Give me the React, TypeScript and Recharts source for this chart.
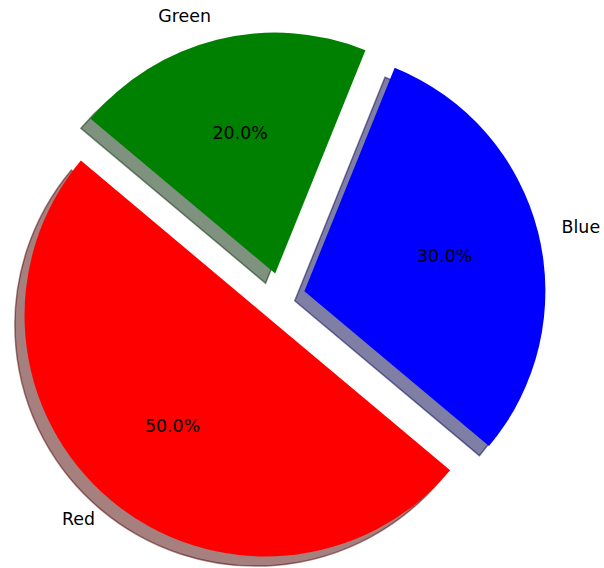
import { PieChart, Pie, Cell, Sector } from 'recharts'

const LABELS = ['Red', 'Blue', 'Green']
const SHARES = [50, 30, 20]
const COLORS = ['#ff0000', '#0000ff', '#008000']
const SHADOWS = ['#4d0000', '#00004d', '#002600'] // 0.3 * face colour, drawn at half alpha
const EXPLODE = [0.1, 0.1, 0.1]

const data = LABELS.map((name, i) => ({ name, value: SHARES[i] }))

const RADIAN = Math.PI / 180
const SHADOW_OFF = 9.6
const FONT = { fontFamily: 'DejaVu Sans', fontSize: 17.4 }

function sliceIndex(p: any) {
  return LABELS.indexOf(p.payload?.name ?? p.name)
}

// unit vector of a slice's mid angle, in screen coords
function dir(midAngle: number): [number, number] {
  return [Math.cos(-midAngle * RADIAN), Math.sin(-midAngle * RADIAN)]
}

function Slice(props: any) {
  const { cx, cy, outerRadius, startAngle, endAngle, midAngle } = props
  const i = sliceIndex(props)
  const [ux, uy] = dir(midAngle)
  const ex = cx + ux * outerRadius * EXPLODE[i]
  const ey = cy + uy * outerRadius * EXPLODE[i]
  return (
    <g>
      <Sector
        cx={ex - SHADOW_OFF}
        cy={ey + SHADOW_OFF}
        innerRadius={0}
        outerRadius={outerRadius}
        startAngle={startAngle}
        endAngle={endAngle}
        fill={SHADOWS[i]}
        fillOpacity={0.5}
        stroke={SHADOWS[i]}
        strokeOpacity={0.5}
        strokeWidth={1.5}
      />
      <Sector
        cx={ex}
        cy={ey}
        innerRadius={0}
        outerRadius={outerRadius}
        startAngle={startAngle}
        endAngle={endAngle}
        fill={COLORS[i]}
        stroke="none"
      />
    </g>
  )
}

function SliceLabel(props: any) {
  const { cx, cy, outerRadius, midAngle, percent } = props
  const i = sliceIndex(props)
  const [ux, uy] = dir(midAngle)
  const ax = cx + ux * outerRadius * EXPLODE[i]
  const ay = cy + uy * outerRadius * EXPLODE[i]
  return (
    <g>
      <text
        x={ax + ux * outerRadius * 1.1}
        y={ay + uy * outerRadius * 1.1}
        textAnchor={ux < 0 ? 'end' : 'start'}
        dominantBaseline="central"
        fill="#000"
        style={FONT}
      >
        {LABELS[i]}
      </text>
      <text
        x={ax + ux * outerRadius * 0.6}
        y={ay + uy * outerRadius * 0.6}
        textAnchor="middle"
        dominantBaseline="central"
        fill="#000"
        style={FONT}
      >
        {(percent * 100).toFixed(1)}%
      </text>
    </g>
  )
}

export default function App() {
  return (
    <div style={{ position: 'absolute', left: 0, top: 0, width: 604, height: 568, background: '#fff' }}>
      <PieChart width={604} height={568} margin={{ top: 0, right: 0, bottom: 0, left: 0 }}>
        <Pie
          data={data}
          dataKey="value"
          nameKey="name"
          cx={281}
          cy={297}
          outerRadius={241}
          startAngle={140}
          endAngle={500}
          shape={Slice}
          activeShape={Slice}
          inactiveShape={Slice}
          label={SliceLabel}
          labelLine={false}
          isAnimationActive={false}
        >
          {data.map((d, i) => (
            <Cell key={d.name} fill={COLORS[i]} />
          ))}
        </Pie>
      </PieChart>
    </div>
  )
}
